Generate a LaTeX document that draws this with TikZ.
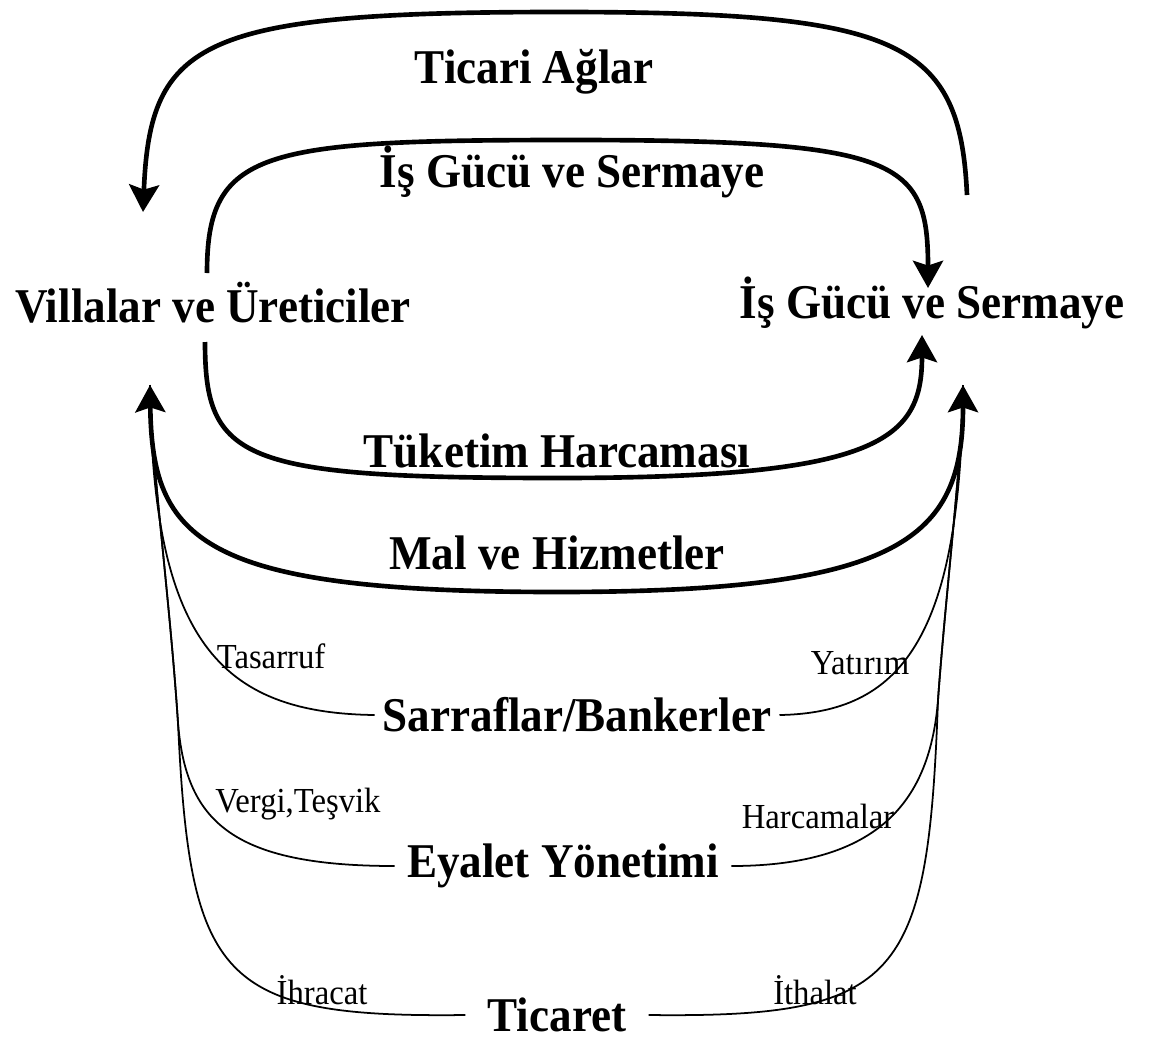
\documentclass[tikz,border=0pt]{standalone}
\usepackage{fontspec}
\setmainfont{Liberation Serif}[FakeStretch=0.93]
\usetikzlibrary{arrows.meta}

\tikzset{
    big/.style={font=\bfseries\fontsize{34.5}{38}\selectfont},
    small/.style={font=\fontsize{25}{29}\selectfont},
    okucu/.tip={Stealth[length=0.68cm,width=0.75cm,inset=0.12cm]},
    flow/.style={line width=3.3pt, -okucu},
    link/.style={line width=1.25pt},
}

\begin{document}
\begin{tikzpicture}[x=0.025cm, y=-0.025cm]
    \useasboundingbox (0,0) rectangle (1168,1039);

    % iki taraf
    \node[big] (hane) at (213,303) {Villalar ve Üreticiler};
    \node[big] (firma) at (932,303) {İş Gücü ve Sermaye};

    % akimlar
    \node[big] (ticari) at (534,72) {Ticari Ağlar};
    \node[big] (isgucu) at (572,172) {İş Gücü ve Sermaye};
    \node[big] (tuketim) at (557,451) {Tüketim Harcaması};
    \node[big] (mal) at (557,553) {Mal ve Hizmetler};
    \node[big, inner xsep=0.2cm] (banka) at (577,715) {Sarraflar/Bankerler};
    \node[big, inner xsep=0.3cm] (eyalet) at (563,866) {Eyalet Yönetimi};
    \node[big, inner xsep=0.55cm, inner ysep=1pt] (ticaret) at (557,1015) {Ticaret};

    \node[small] (tasarruf) at (271,656) {Tasarruf};
    \node[small] (yatirim) at (860,663) {Yatırım};
    \node[small] (vergi) at (298,804) {Vergi,Teşvik};
    \node[small] (harcama) at (818,816) {Harcamalar};
    \node[small] (ihracat) at (322,990) {İhracat};
    \node[small] (ithalat) at (815,990) {İthalat};

    % ok uclari
    \coordinate (a1) at (143,212);
    \coordinate (a2) at (967,195);
    \coordinate (b1) at (207,273);
    \coordinate (b2) at (928,288);
    \coordinate (c1) at (205,342);
    \coordinate (c2) at (922,335);
    \coordinate (d1) at (150,385);
    \coordinate (d2) at (963,385);

    % ince baglantilar
    \draw[link] (banka.west) .. controls (220,713) and (152,640) .. (d1);
    \draw[link] (banka.east) .. controls (900,713) and (961,640) .. (d2);
    \draw[link] (eyalet.west) .. controls (230,866) and (186,820) .. (178,723)
        .. controls (170,600) and (150,450) .. (d1);
    \draw[link] (eyalet.east) .. controls (880,866) and (930,800) .. (938,700)
        .. controls (945,600) and (963,450) .. (d2);
    \draw[link] (ticaret.west) .. controls (220,1018) and (190,980) .. (178,723)
        .. controls (170,600) and (150,450) .. (d1);
    \draw[link] (ticaret.east) .. controls (900,1018) and (928,980) .. (938,700)
        .. controls (945,600) and (963,450) .. (d2);

    % kalin akimlar
    \draw[flow] (a2) .. controls (960,40) and (900,12) .. (560,12)
        .. controls (200,12) and (150,40) .. (a1);
    \draw[flow] (b1) .. controls (207,150) and (260,140) .. (570,140)
        .. controls (900,140) and (928,160) .. (b2);
    \draw[flow] (c1) .. controls (205,460) and (240,478) .. (557,478)
        .. controls (880,478) and (922,440) .. (c2);
    \draw[flow, okucu-okucu] (d1) .. controls (152,540) and (200,592) .. (557,592)
        .. controls (900,592) and (963,540) .. (d2);
\end{tikzpicture}
\end{document}
